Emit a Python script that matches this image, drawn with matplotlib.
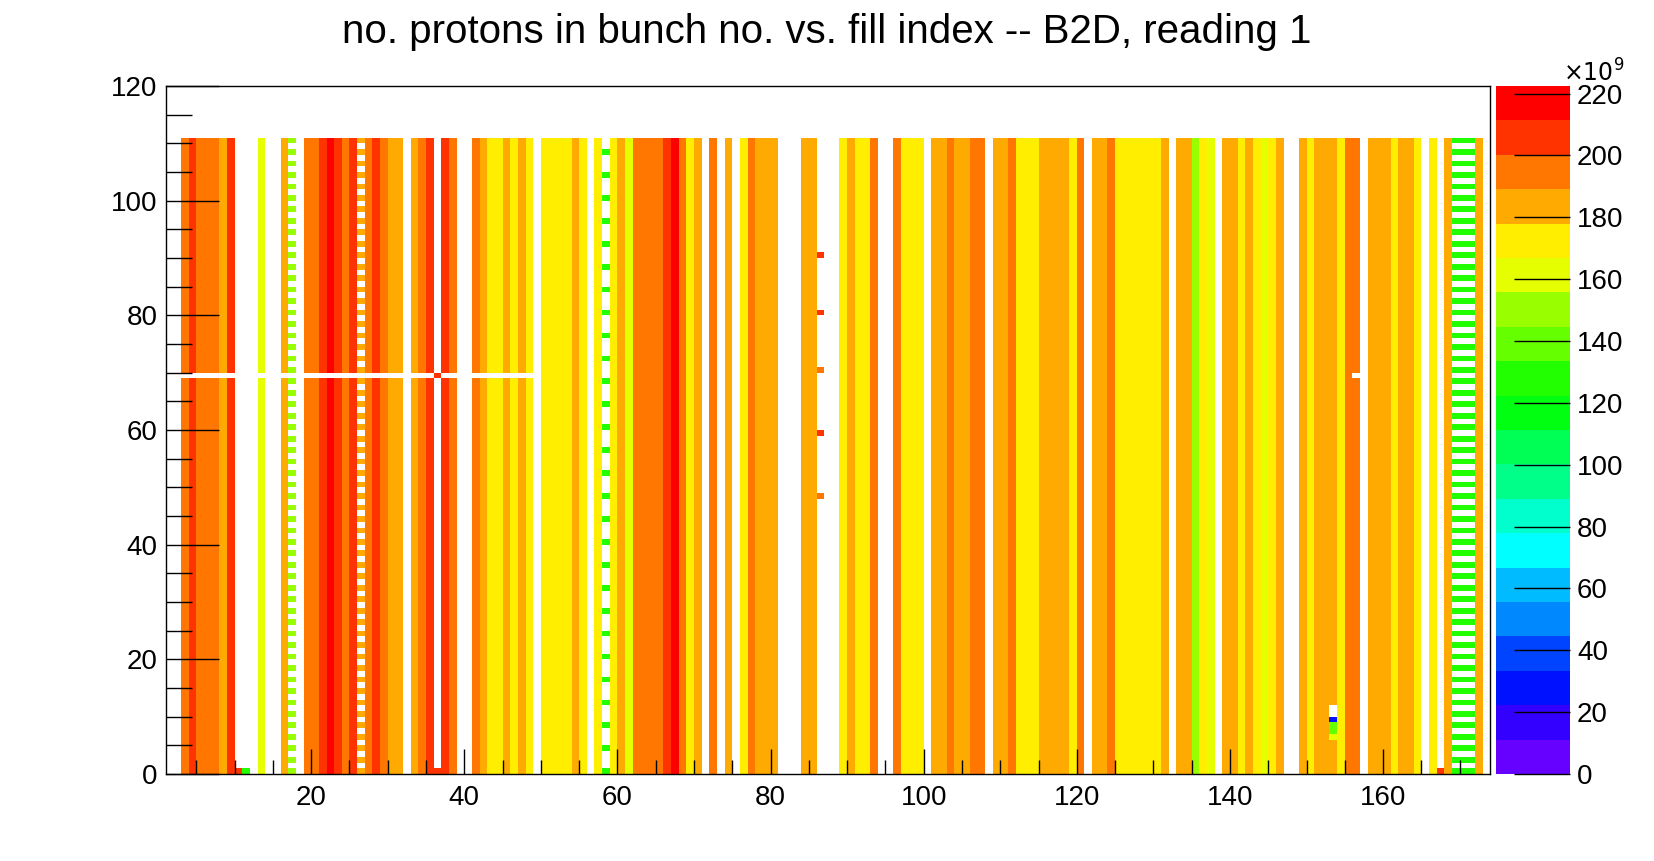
import numpy as np
import matplotlib
matplotlib.use("Agg")
import matplotlib.pyplot as plt
from matplotlib.colors import ListedColormap, BoundaryNorm

plt.rcParams['font.family'] = ['Liberation Sans', 'DejaVu Sans']

nan = np.nan
# fill index columns 3..172, value in units of 1e9 protons (nan = empty)
fill_index = list(range(3, 173))
col_values = [
    195, 205, 195, 195, 197, 184, 203, nan, nan, nan,   # 3-12
    162, nan, nan, 184, 150, nan, 195, 192, 205, 212,   # 13-22
    205, 195, 205, 184, 190, 205, 195, 184, 188, nan,   # 23-32
    180, 195, 205, nan, 205, 195, nan, nan, 190, 180,   # 33-42
    176, 172, 188, 172, 184, 172, nan, 176, 168, 176,   # 43-52
    172, 184, 172, nan, 170, 128, 176, 184, 162, 190,   # 53-62
    195, 190, 195, 205, 215, 200, 172, 184, nan, 195,   # 63-72
    nan, 178, nan, 176, 190, 184, 184, 180, nan, nan,   # 73-82
    nan, 184, 184, nan, nan, nan, 168, 188, 172, 172,   # 83-92
    195, nan, nan, 198, 172, 172, 172, nan, 180, 184,   # 93-102
    195, 184, 184, 195, 195, nan, 184, 184, 195, 172,   # 103-112
    168, 172, 178, 184, 184, 178, 172, 195, nan, 184,   # 113-122
    180, 195, 176, 172, 172, 172, 172, 172, 180, nan,   # 123-132
    184, 180, 150, 172, 164, nan, 184, 178, 172, 184,   # 133-142
    172, 164, 176, 184, nan, nan, 184, 172, 184, 178,   # 143-152
    184, 172, 195, 190, nan, 184, 184, 180, 176, 184,   # 153-162
    184, 176, nan, 172, nan, 184, 128, 128, 128, 184,   # 163-172
]
striped_2 = [17, 26, 169, 170, 171]   # every other bunch empty
striped_4 = [58]                       # only every 4th bunch filled
gap_row_cols = list(range(3, 50))      # bunch 69 empty for these fills
single_cells = [(10, 0, 205), (11, 0, 130), (167, 0, 205), (36, 0, 205),
                (36, 69, 205), (86, 90, 205), (86, 80, 205), (86, 70, 200),
                (86, 59, 205), (86, 48, 200),
                (153, 9, 30), (153, 8, 140), (153, 7, 140), (153, 6, 160)]
empty_cells = [(153, 10), (153, 11), (156, 69)]
n_bunch = 111

x_edges = np.arange(1, 175)
y_edges = np.arange(0, n_bunch + 1)
Z = np.full((n_bunch, len(x_edges) - 1), nan)
for k, v in zip(fill_index, col_values):
    Z[:, k - 1] = v
for k in striped_2:
    Z[1::2, k - 1] = nan
for k in striped_4:
    col = np.full(n_bunch, nan)
    col[::4] = col_values[k - 3]
    Z[:, k - 1] = col
for k in gap_row_cols:
    Z[69, k - 1] = nan
for k, r, v in single_cells:
    Z[r, k - 1] = v
for k, r in empty_cells:
    Z[r, k - 1] = nan

colors = ['#6600FF', '#3300FF', '#0011FF', '#0044FF', '#0088FF', '#00BBFF',
          '#00FFFF', '#00FFCC', '#00FF88', '#00FF55', '#00FF11', '#22FF00',
          '#66FF00', '#99FF00', '#E6FF00', '#FFEE00', '#FFAA00', '#FF7700',
          '#FF3300', '#FF0000']
cmap = ListedColormap(colors)
levels = np.linspace(0, 222.4, 21)
norm = BoundaryNorm(levels, cmap.N)

fig = plt.figure(figsize=(16.54, 8.61), dpi=100)
ax = fig.add_axes([0.1002, 0.101, 0.8008, 0.799])
mesh = ax.pcolormesh(x_edges, y_edges, Z, cmap=cmap, norm=norm)
ax.set_xlim(1, 174)
ax.set_ylim(0, 120)
ax.set_xticks(range(20, 161, 20))
ax.set_xticks(range(5, 174, 5), minor=True)
ax.set_yticks(range(0, 121, 20))
ax.set_yticks(range(0, 121, 5), minor=True)
ax.tick_params(which='both', direction='in', top=False, right=False, labelsize=20, width=1)
ax.tick_params(axis='x', which='major', length=18, pad=8)
ax.tick_params(axis='x', which='minor', length=10)
ax.tick_params(axis='y', which='major', length=38, pad=6)
ax.tick_params(axis='y', which='minor', length=19)
for s in ax.spines.values():
    s.set_linewidth(1)

fig.suptitle('no. protons in bunch no. vs. fill index -- B2D, reading 1', y=0.985, fontsize=29)

cax = fig.add_axes([0.9045, 0.101, 0.0448, 0.799])
cb = fig.colorbar(mesh, cax=cax, ticks=range(0, 221, 20))
cb.outline.set_visible(False)
cb.minorticks_off()
cax.tick_params(which='major', direction='in', length=40, width=1, labelsize=20, pad=5)
cax.tick_params(which='minor', length=0)
cax.set_yticklabels([str(t) for t in range(0, 221, 20)])
fig.text(0.945, 0.905, r'$\times10^{9}$', fontsize=17)

fig.savefig('out.png', dpi=100)
